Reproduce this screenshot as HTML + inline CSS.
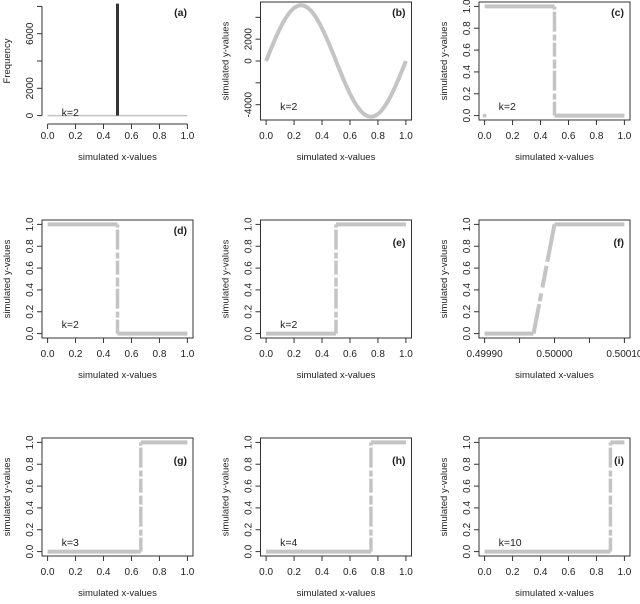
<!DOCTYPE html>
<html><head><meta charset="utf-8"><style>
html,body{margin:0;padding:0;background:#fff;}
svg text{font-family:"Liberation Sans",sans-serif;fill:#222;}
</style></head><body>
<svg id="s" width="640" height="599" xmlns="http://www.w3.org/2000/svg"></svg>
<script>
const s=document.getElementById('s');let h='';
const G='#c4c4c4';
const W=151,H=118;
function panel(c,r,o){
 const L=42+218.5*c, T=2+218*r, B=T+H, R=L+W;
 const [x0,x1]=o.xr, [y0,y1]=o.yr;
 const px=x=>L+5.6+(x-x0)/(x1-x0)*(W-11.2);
 const py=y=>B-4.4-(y-y0)/(y1-y0)*(H-8.8);
 if(o.box) h+=`<rect x="${L}" y="${T}" width="${W}" height="${H}" fill="none" stroke="#333" stroke-width="1"/>`;
 h+=o.draw(px,py,L,T,B,R);
 const ax=B+(o.box?0:4);
 h+=`<line x1="${px(o.xt[0])}" y1="${ax}" x2="${px(o.xt[o.xt.length-1])}" y2="${ax}" stroke="#333"/>`;
 o.xt.forEach((t,i)=>{h+=`<line x1="${px(t)}" y1="${ax}" x2="${px(t)}" y2="${ax+5}" stroke="#333"/><text x="${px(t)}" y="${B+19}" font-size="10" text-anchor="middle">${o.xl[i]}</text>`;});
 const ay=L;
 h+=`<line x1="${ay}" y1="${py(o.yt[0])}" x2="${ay}" y2="${py(o.yt[o.yt.length-1])}" stroke="#333"/>`;
 o.yt.forEach((t,i)=>{h+=`<line x1="${ay}" y1="${py(t)}" x2="${ay-5}" y2="${py(t)}" stroke="#333"/>`;
  if(o.yl[i]!=='') h+=`<text transform="translate(${ay-9},${py(t)}) rotate(-90)" font-size="10" text-anchor="middle">${o.yl[i]}</text>`;});
 h+=`<text x="${(L+R)/2}" y="${B+40}" font-size="9.5" text-anchor="middle">simulated x-values</text>`;
 h+=`<text transform="translate(${L-32},${(T+B)/2}) rotate(-90)" font-size="9.5" text-anchor="middle">${o.ylab||'simulated y-values'}</text>`;
 h+=`<text x="${R-6}" y="${T+(o.lt||14)}" font-size="10.5" font-weight="bold" text-anchor="end">${o.lab}</text>`;
 h+=`<text x="${px(0.1)+ (o.kx||0)}" y="${B-(o.ky||10)}" font-size="10.5">${o.k}</text>`;
}
const yt=[0,0.2,0.4,0.6,0.8,1],yl=['0.0','0.2','0.4','0.6','0.8','1.0'];
const xt=[0,0.2,0.4,0.6,0.8,1],xl=yl;
function seg(x1,y1,x2,y2){return `<line x1="${x1}" y1="${y1}" x2="${x2}" y2="${y2}" stroke="${G}" stroke-width="4"/>`;}
function step(thr,up,extra){return (px,py)=>{
 const a=up?0:1,b=up?1:0;
 let r=seg(px(0),py(a),px(thr),py(a))+seg(px(thr),py(b),px(1),py(b));
 r+=`<line x1="${px(thr)}" y1="${py(0)}" x2="${px(thr)}" y2="${py(1)}" stroke="${G}" stroke-width="3.5" stroke-dasharray="14 2 6 3 20 2 9 3"/>`;
 if(extra) r+=`<circle cx="${px(0)}" cy="${py(0)}" r="2" fill="${G}"/>`;
 return r;};}
panel(0,0,{box:false,xr:[0,1],yr:[0,8000],xt,xl,yt:[0,2000,4000,6000,8000],yl:['0','2000','','6000',''],ylab:'Frequency',lab:'(a)',k:'k=2',ky:4,
 draw:(px,py)=>seg(px(0),py(0)+0,px(1),py(0)).replace('stroke-width="4"','stroke-width="1.5"')+`<rect x="${px(0.5)-1.5}" y="${py(8200)}" width="3" height="${py(0)-py(8200)}" fill="#333"/>`});
panel(1,0,{box:true,xr:[0,1],yr:[-5000,5000],xt,xl,yt:[-4000,-2000,0,2000,4000],yl:['-4000','','0','2000',''],lab:'(b)',k:'k=2',
 draw:(px,py)=>{let p='';for(let i=0;i<=100;i++){const x=i/100;p+=(i?'L':'M')+px(x).toFixed(1)+','+py(5100*Math.sin(2*Math.PI*x)).toFixed(1);}return `<path d="${p}" fill="none" stroke="${G}" stroke-width="4"/>`;}});
panel(2,0,{box:true,xr:[0,1],yr:[0,1],xt,xl,yt,yl,lab:'(c)',k:'k=2',draw:step(0.5,false,true)});
panel(0,1,{box:true,xr:[0,1],yr:[0,1],xt,xl,yt,yl,lab:'(d)',k:'k=2',draw:step(0.5,false)});
panel(1,1,{box:true,xr:[0,1],yr:[0,1],xt,xl,yt,yl,lab:'(e)',k:'k=2',lt:26,draw:step(0.5,true)});
panel(2,1,{box:true,xr:[0.4999,0.5001],yr:[0,1],xt:[0.4999,0.49995,0.5,0.50005,0.5001],xl:['0.49990','','0.50000','','0.50010'],yt,yl,lab:'(f)',k:'k=2',lt:26,kx:-14,
 draw:(px,py)=>seg(px(0.4999),py(0),px(0.499970),py(0))+`<line x1="${px(0.49997)}" y1="${py(0)}" x2="${px(0.5)}" y2="${py(1)}" stroke="${G}" stroke-width="4" stroke-dasharray="30 3 8 6 22 4 40"/>`+seg(px(0.5),py(1),px(0.5001),py(1))});
panel(0,2,{box:true,xr:[0,1],yr:[0,1],xt,xl,yt,yl,lab:'(g)',k:'k=3',lt:26,draw:step(2/3,true)});
panel(1,2,{box:true,xr:[0,1],yr:[0,1],xt,xl,yt,yl,lab:'(h)',k:'k=4',lt:26,draw:step(0.75,true)});
panel(2,2,{box:true,xr:[0,1],yr:[0,1],xt,xl,yt,yl,lab:'(i)',k:'k=10',lt:26,draw:step(0.9,true)});
s.innerHTML=h;
</script>
</body></html>
